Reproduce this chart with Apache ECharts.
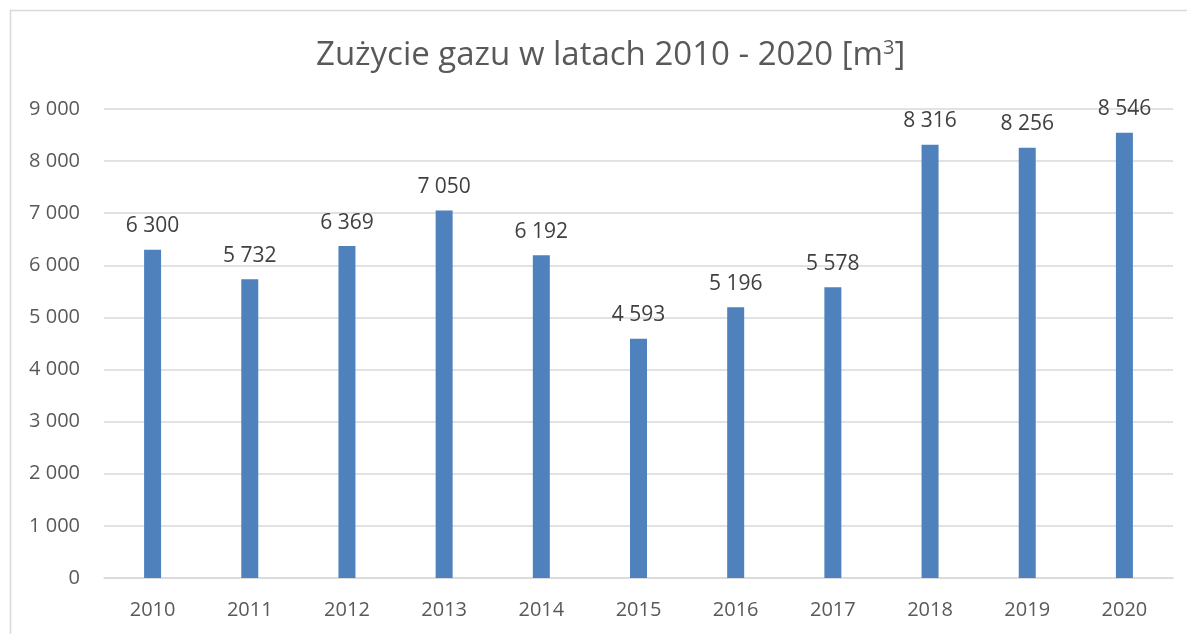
<!DOCTYPE html>
<html>
<head>
<meta charset="utf-8">
<script src="https://cdn.jsdelivr.net/npm/echarts@6/dist/echarts.min.js"></script>
<style>
html, body { margin: 0; padding: 0; background: #fff; }
#container { width: 1187px; height: 634px; }
</style>
</head>
<body>
<div id="container"></div>
<script>
var years = ['2010', '2011', '2012', '2013', '2014', '2015', '2016', '2017', '2018', '2019', '2020'];
var usage = [6300, 5732, 6369, 7050, 6192, 4593, 5196, 5578, 8316, 8256, 8546];

function fmt(v) {
	return String(v).replace(/\B(?=(\d{3})+(?!\d))/g, ' ');
}

var myChart = echarts.init(document.getElementById('container'));

var option = {
	animation: false,
	textStyle: { fontFamily: 'Open Sans' },
	title: {
		text: 'Zużycie gazu w latach 2010 - 2020 [m{sup|3}]',
		left: 311,
		top: 33,
		textStyle: {
			fontFamily: 'Open Sans',
			fontSize: 33,
			fontWeight: 'normal',
			color: '#595959',
			rich: {
				sup: { fontSize: 20, verticalAlign: 'top', color: '#595959', padding: [0, 0, 16, 0] }
			}
		}
	},
	graphic: [{
		type: 'rect',
		shape: { x: 10.5, y: 10.5, width: 1200, height: 700 },
		style: { fill: 'none', stroke: '#d9d9d9', lineWidth: 1.5 },
		silent: true
	}],
	grid: { left: 104, right: 14, top: 109, bottom: 56, containLabel: false },
	xAxis: {
		type: 'category',
		data: years,
		axisLine: { lineStyle: { color: '#d9d9d9', width: 1.5 } },
		axisTick: { show: false },
		axisLabel: { color: '#595959', fontSize: 20, margin: 22 }
	},
	yAxis: {
		type: 'value',
		min: 0,
		max: 9000,
		interval: 1000,
		axisLine: { show: false },
		axisTick: { show: false },
		splitLine: { lineStyle: { color: '#d9d9d9', width: 1.5 } },
		axisLabel: {
			color: '#595959',
			fontSize: 20,
			margin: 24,
			formatter: function (v) { return fmt(v); }
		}
	},
	series: [{
		type: 'bar',
		data: usage,
		barWidth: 17,
		itemStyle: { color: '#4f81bd' },
		label: {
			show: true,
			position: 'top',
			distance: 13,
			color: '#404040',
			fontSize: 21,
			formatter: function (p) { return fmt(p.value); }
		}
	}]
};

myChart.setOption(option);
</script>
</body>
</html>
